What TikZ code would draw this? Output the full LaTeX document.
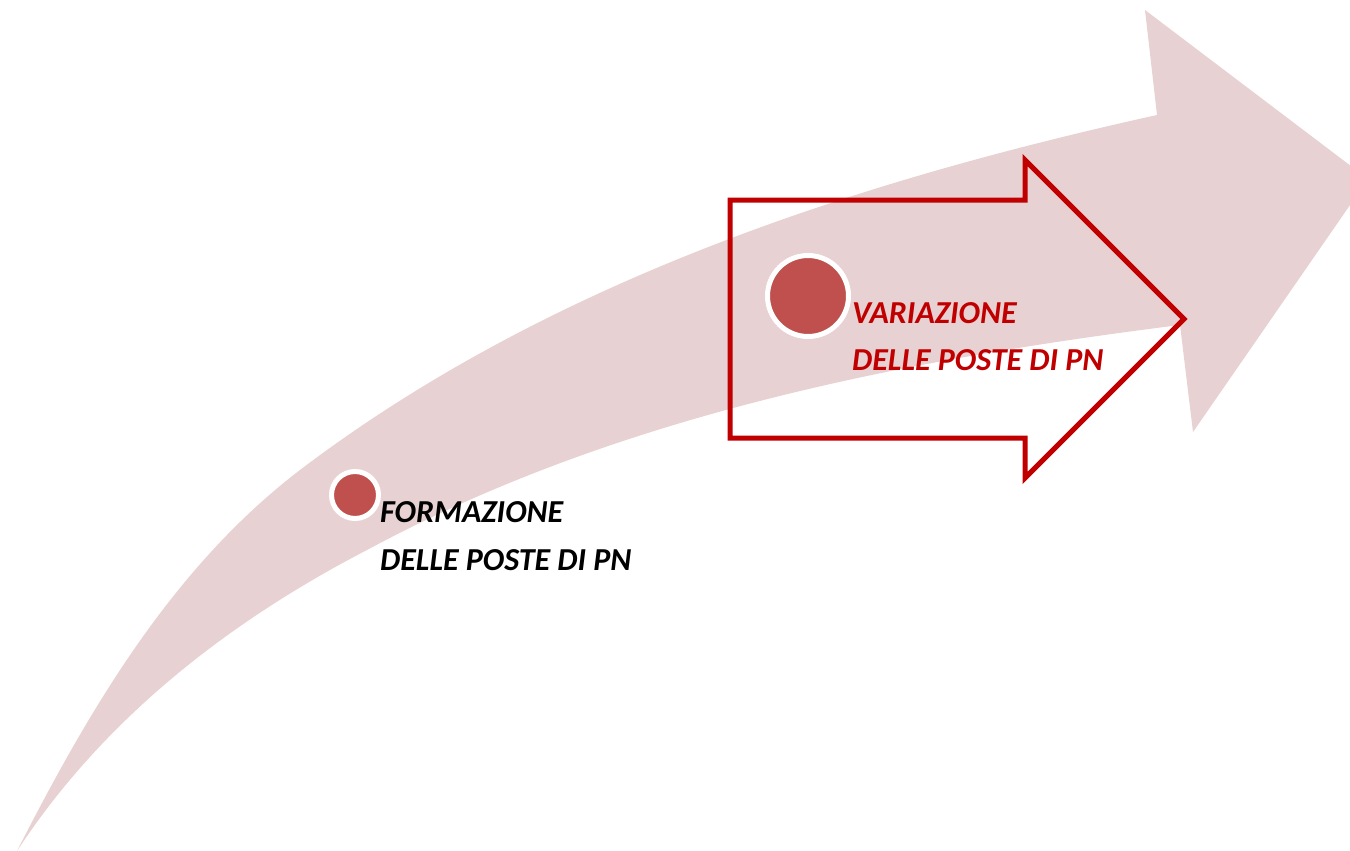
\documentclass[tikz,border=0pt]{standalone}
\usepackage{fontspec}
\setmainfont{Carlito}
\definecolor{pinkband}{HTML}{E8D1D2}
\definecolor{dotred}{HTML}{C0504D}
\definecolor{darkred}{HTML}{C00000}
\tikzset{
  lbl/.style={inner sep=0pt, anchor=base west, font=\fontsize{32}{38}\selectfont\bfseries\itshape},
  dot/.style={circle, fill=dotred, draw=white, line width=5pt, inner sep=0pt},
  outlinearrow/.style={draw=darkred, line width=5pt, line join=miter}
}
\begin{document}
\begin{tikzpicture}[x=1pt,y=-1pt]
\useasboundingbox (0,0) rectangle (1350,851);
\clip (0,0) rectangle (1350,851);
% big curved arrow
\fill[pinkband] (17,851)
  .. controls (90,708) and (173,567) .. (300,470)
  .. controls (547,282.5) and (854,182) .. (1157,115)
  -- (1145,10) -- (1368,179) -- (1193,432) -- (1180,325)
  .. controls (901,360) and (616,416) .. (367,550)
  .. controls (230,621) and (104,718) .. (17,851) -- cycle;
% outline arrow
\draw[outlinearrow] (730,200) -- (1025,200) -- (1025,160) -- (1184,319) -- (1025,478) -- (1025,438) -- (730,438) -- cycle;
% dots
\node[dot, minimum size=47pt] (d1) at (355,495) {};
\node[dot, minimum size=81pt] (d2) at (808,296) {};
% labels
\node[lbl] (f1) at (380,522) {FORMAZIONE};
\node[lbl] (f2) at (380,570) {DELLE POSTE DI PN};
\node[lbl, text=darkred] (v1) at (852,323) {VARIAZIONE};
\node[lbl, text=darkred] (v2) at (852,370) {DELLE POSTE DI PN};
\end{tikzpicture}
\end{document}
